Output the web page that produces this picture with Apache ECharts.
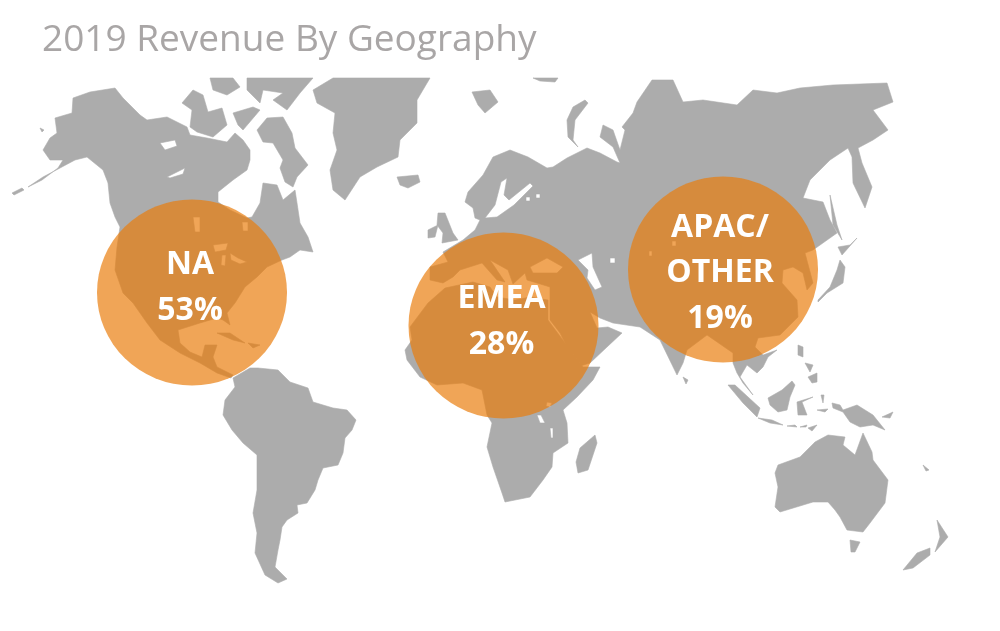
<!DOCTYPE html>
<html><head><meta charset="utf-8">
<style>html,body{margin:0;padding:0;background:#fff}#c{width:1000px;height:631px}</style>
<script src="https://cdn.jsdelivr.net/npm/echarts@6/dist/echarts.min.js"></script>
</head><body><div id="c"></div>
<script>
const titleText = '2019 Revenue By Geography';
const regions = ['NA', 'EMEA', 'APAC/\nOTHER'];
const shares = [53, 28, 19];
const hubs = [[192, 292.5], [503.5, 325.5], [723, 269.5]];

const landNorthAmerica = [[[73,98],[90,92],[115,88],[123,98],[140,115],[147,120],[167,117],[187,127],[190,135],[207,138],[227,142],[235,133],[243,140],[250,150],[250,160],[247,170],[233,180],[218,192],[218,202],[230,210],[247,218],[252,217],[260,203],[263,183],[277,185],[283,200],[295,190],[297,203],[300,223],[308,237],[313,252],[300,250],[290,257],[282,260],[267,267],[257,277],[245,287],[235,303],[227,313],[230,325],[223,320],[217,318],[200,323],[178,330],[180,343],[190,352],[202,357],[205,345],[217,345],[213,357],[217,367],[233,375],[231,378],[217,373],[200,363],[180,353],[160,340],[147,323],[133,303],[123,293],[115,270],[117,247],[120,227],[115,217],[110,203],[108,183],[103,170],[87,157],[75,160],[60,168],[43,177],[28,187],[42,180],[58,168],[63,160],[50,160],[43,150],[50,138],[57,133],[55,118],[72,113]],
 [[160,143],[175,140],[177,146],[165,150]],[[167,177],[185,168],[183,174],[170,178]],[[193,217],[200,217],[200,232],[195,232]],[[242,222],[248,222],[248,231],[243,231]],[[213,245],[228,243],[226,250],[215,252]],[[222,255],[226,255],[225,266],[221,265]],[[230,253],[238,258],[247,262],[240,264],[231,260]]];
const landSouthAmerica = [[[250,368],[258,368],[278,370],[290,382],[308,388],[313,402],[333,408],[347,410],[356,420],[352,430],[345,438],[343,453],[338,465],[323,468],[318,480],[315,490],[307,503],[297,505],[298,513],[287,520],[282,527],[280,540],[278,550],[275,567],[287,579],[278,583],[265,575],[255,553],[257,533],[253,513],[257,490],[257,455],[243,443],[232,430],[223,415],[225,400],[235,387],[233,378]]];
const landGreenland = [[[313,90],[333,78],[430,78],[417,100],[417,123],[400,140],[398,157],[377,167],[360,177],[345,200],[333,190],[330,170],[337,150],[333,133],[335,113],[317,103]]];
const landEurasia = [[[443,252],[463,240],[475,230],[480,220],[475,218],[473,208],[465,202],[468,192],[483,175],[493,157],[510,150],[528,157],[547,168],[553,167],[567,158],[587,148],[600,153],[617,162],[620,163],[613,147],[600,137],[603,125],[613,130],[620,150],[625,130],[622,127],[633,113],[637,102],[652,80],[673,80],[683,102],[703,100],[737,105],[753,90],[777,93],[800,88],[833,85],[887,83],[893,102],[873,110],[888,130],[873,140],[858,148],[862,163],[872,187],[865,208],[853,183],[852,157],[848,148],[830,160],[810,180],[803,198],[823,202],[830,220],[837,233],[813,250],[805,253],[813,283],[807,290],[803,273],[793,267],[783,270],[782,283],[797,300],[798,317],[780,335],[758,338],[755,347],[763,355],[777,350],[768,357],[763,367],[757,373],[747,365],[740,377],[753,395],[743,383],[737,373],[733,363],[733,353],[707,335],[687,350],[683,363],[677,375],[660,340],[640,327],[613,323],[600,318],[590,312],[597,328],[608,327],[622,333],[607,347],[590,363],[577,367],[560,333],[550,320],[550,287],[527,280],[525,273],[513,284],[508,270],[490,260],[505,282],[497,280],[482,263],[460,270],[453,277],[443,283],[430,280],[430,267],[448,262]],
 [[501,182],[507,178],[504,195],[509,200],[530,183],[533,186],[514,205],[497,217],[485,218],[495,205]],[[530,267],[547,258],[563,267],[557,273],[533,273]],[[578,260],[592,253],[593,267],[602,287],[595,290],[587,278],[588,270]],[[610,258],[615,258],[615,263],[610,263]],[[526,197],[530,197],[530,201],[526,201]],[[536,194],[540,194],[540,198],[536,198]],[[649,251],[652,251],[652,256],[649,256]],[[672,241],[676,241],[676,246],[672,246]]];
const landAfrica = [[[410,327],[428,303],[445,288],[473,282],[490,287],[497,297],[515,300],[530,297],[548,300],[548,320],[583,367],[600,367],[593,380],[577,397],[563,410],[567,423],[568,443],[553,453],[552,467],[543,480],[530,497],[505,502],[502,493],[493,467],[487,447],[492,423],[487,415],[482,390],[463,383],[437,385],[420,377],[407,360],[405,350],[412,340]],
 [[547,402],[552,403],[550,407],[546,406]],[[537,415],[541,415],[545,423],[540,423]],[[550,428],[553,428],[553,438],[551,438]]];
const landAustralia = [[[775,473],[778,465],[800,457],[815,442],[828,435],[845,437],[843,445],[855,455],[863,433],[872,452],[873,460],[888,480],[885,503],[870,523],[863,532],[847,530],[840,517],[835,510],[828,502],[813,502],[780,512],[775,507],[778,487]]];
const landIslands = [
 [[257,130],[267,118],[283,117],[292,133],[295,148],[308,165],[297,177],[293,187],[285,182],[280,168],[283,160],[273,143],[263,142]],
 [[182,103],[193,90],[203,95],[208,112],[222,108],[227,125],[213,137],[197,132],[190,127],[192,110]],
 [[210,78],[233,78],[240,87],[227,95],[213,90]],
 [[247,78],[313,78],[300,93],[287,110],[273,100],[283,93],[263,90],[260,103],[247,90]],
 [[233,113],[253,107],[260,110],[243,130],[238,125]],
 [[40,128],[44,130],[42,132]],[[12,193],[22,188],[24,190],[14,195]],
 [[217,333],[230,333],[245,343],[233,340]],[[248,343],[260,345],[253,348]],
 [[397,177],[418,175],[420,182],[408,188],[400,185]],
 [[472,92],[490,90],[498,102],[485,113],[478,105]],[[533,78],[558,78],[555,82],[540,81]],
 [[585,100],[588,103],[575,120],[573,140],[578,147],[568,137],[567,120],[573,107]],
 [[438,213],[445,213],[453,233],[458,240],[442,243],[443,233],[437,225]],[[428,230],[438,225],[435,237],[428,238]],
 [[595,435],[597,443],[588,470],[578,473],[576,462],[580,448]],
 [[818,300],[830,287],[837,270],[840,260],[845,267],[843,283],[827,293],[818,302]],[[838,247],[850,245],[857,238],[842,255]],[[830,195],[837,225],[842,240],[833,225]],
 [[683,377],[688,380],[686,384]],
 [[728,385],[735,385],[760,408],[757,417],[743,403]],[[758,418],[772,420],[783,425],[770,423]],
 [[787,426],[795,425],[797,427]],[[800,427],[807,425],[806,427]],[[808,428],[817,425],[812,431]],
 [[768,398],[782,390],[792,381],[795,385],[790,397],[787,410],[778,412],[770,405]],
 [[797,402],[813,397],[802,402],[807,415],[798,415]],
 [[798,345],[803,347],[803,357],[798,355]],[[808,377],[817,373],[817,382],[812,383]],[[805,363],[813,365],[810,372]],
 [[832,403],[840,405],[843,410],[857,405],[873,415],[885,430],[873,425],[860,427],[850,422],[843,412],[833,408]],
 [[821,395],[824,395],[823,403]],[[817,410],[828,409],[825,412]],[[882,417],[893,412],[890,418]],[[923,465],[929,470],[926,471]],
 [[850,540],[860,542],[855,552],[851,552]],
 [[937,520],[948,537],[935,552],[940,537]],[[930,548],[930,555],[913,568],[903,570],[917,553]]
];

function area(r){let s=0;r.forEach((p,i)=>{const q=r[(i+1)%r.length];s+=p[0]*q[1]-q[0]*p[1];});return s;}
function shape(rings){
  return rings.map((r,i)=>{
    const c=r.concat([r[0]]);
    const wantPositive=i===0;
    return (area(r)>0)===wantPositive?c:c.slice().reverse();
  });
}
const polys=[landNorthAmerica,landSouthAmerica,landGreenland,landEurasia,landAfrica,landAustralia].concat(landIslands.map(r=>[r]));
const world={type:'FeatureCollection',features:polys.map((rings,i)=>({type:'Feature',properties:{name:'land'+i},geometry:{type:'Polygon',coordinates:shape(rings)}}))};
echarts.registerMap('world2019',world);

const labelOffsets=[[-2,-4.5],[-2,-3.5],[-3,3.5]];
const chart=echarts.init(document.getElementById('c'),null,{renderer:'canvas'});
chart.setOption({
  animation:false,
  backgroundColor:'#fff',
  title:{text:titleText,left:37,top:17,textStyle:{fontFamily:'Open Sans',fontSize:37,fontWeight:'normal',color:'#A9A6A6'}},
  tooltip:{show:false},
  geo:{map:'world2019',roam:false,silent:true,
    projection:{project:p=>p,unproject:p=>p},
    layoutCenter:[480,330.5],layoutSize:936,
    label:{show:false},
    itemStyle:{areaColor:'#ACACAC',borderColor:'#ACACAC',borderWidth:0.6},
    emphasis:{disabled:true},select:{disabled:true}},
  series:[{type:'scatter',coordinateSystem:'geo',silent:true,
    symbol:'circle',symbolSize:[190,186],
    itemStyle:{color:'rgba(233,125,12,0.69)',opacity:1},
    data:regions.map((r,i)=>({name:r,value:[hubs[i][0],hubs[i][1],shares[i]],
      label:{show:true,position:'inside',offset:labelOffsets[i],
        formatter:r+'\n'+shares[i]+'%',
        fontFamily:'Open Sans',fontWeight:'bold',fontSize:32,lineHeight:45.5,color:'#fff'}}))
  }]
});
</script></body></html>
